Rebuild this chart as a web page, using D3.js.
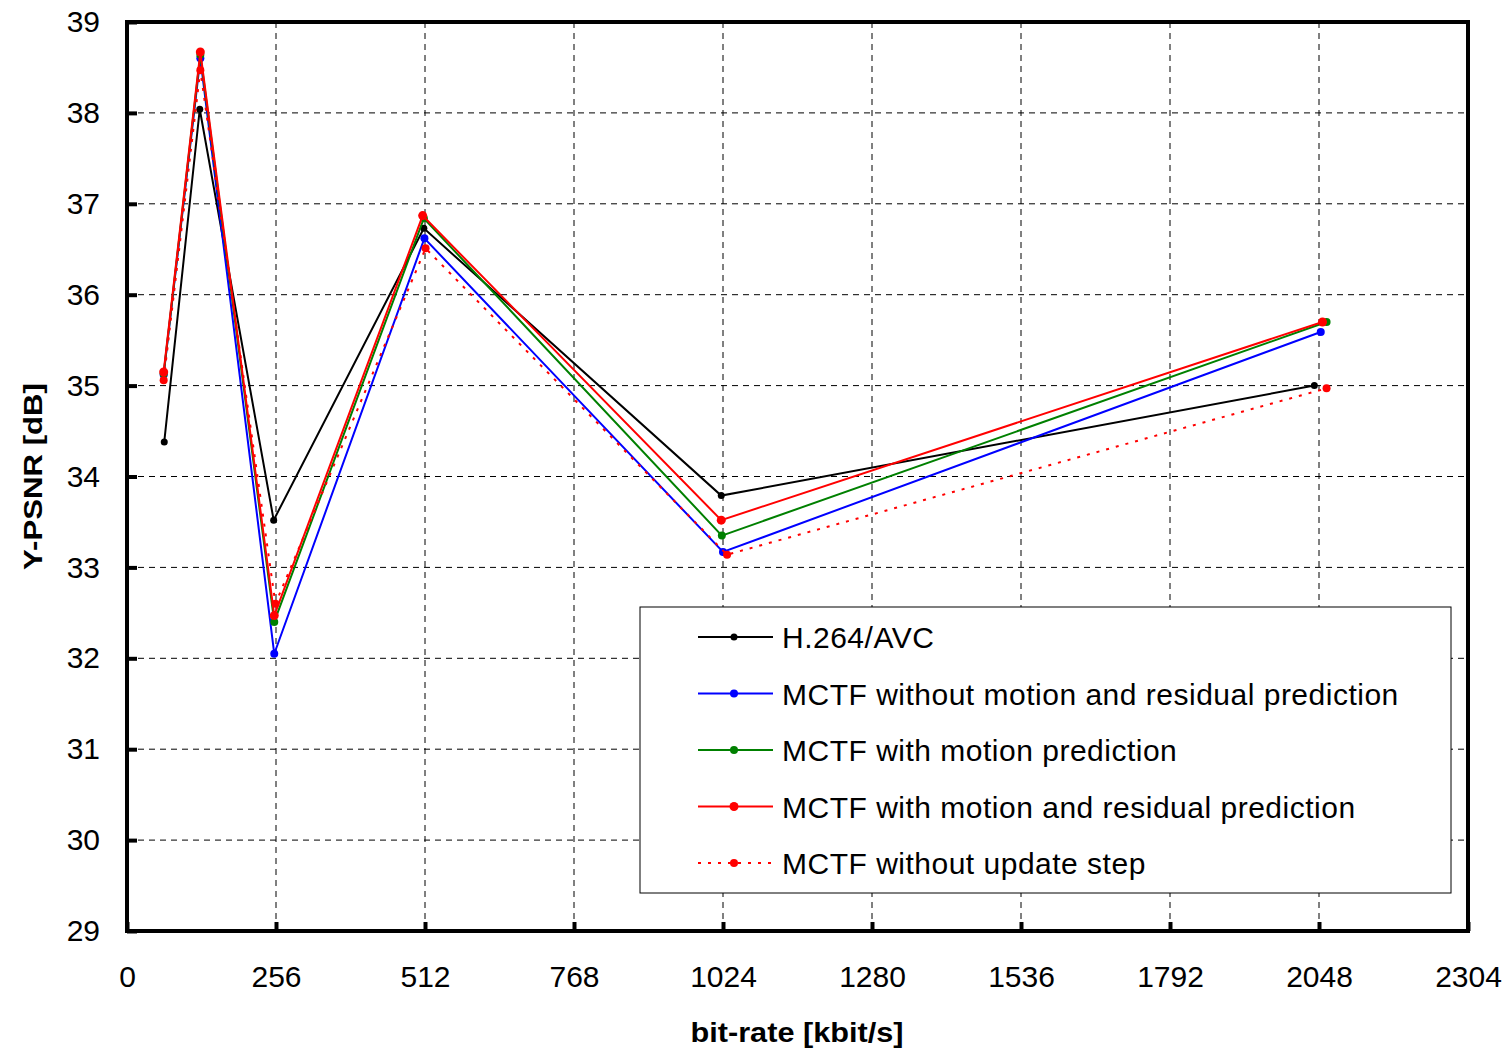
<!DOCTYPE html>
<html>
<head>
<meta charset="utf-8">
<script src="https://cdn.jsdelivr.net/npm/d3@7"></script>
<style>
  body { margin: 0; background: #fff; }
  text { font-family: "Liberation Sans", Arial, sans-serif; }
</style>
</head>
<body>
<div id="chartArea"></div>
<script>
// bit-rate (kbit/s) and Y-PSNR (dB) per curve
const seriesNames = [
  "H.264/AVC",
  "MCTF without motion and residual prediction",
  "MCTF with motion prediction",
  "MCTF with motion and residual prediction",
  "MCTF without update step"
];
const h264Rate = [64, 125, 252, 510, 1021, 2040];
const h264Psnr = [34.38, 38.04, 33.52, 36.73, 33.79, 35.0];
const noPredRate = [63, 126, 253, 511, 1024, 2051];
const noPredPsnr = [35.12, 38.6, 32.05, 36.62, 33.17, 35.59];
const motionRate = [63, 126, 253, 510, 1022, 2061];
const motionPsnr = [35.13, 38.64, 32.4, 36.84, 33.35, 35.7];
const fullRate = [63, 126, 253, 508, 1021, 2054];
const fullPsnr = [35.15, 38.67, 32.47, 36.87, 33.52, 35.7];
const noUpdateRate = [63, 126, 255, 513, 1031, 2061];
const noUpdatePsnr = [35.06, 38.47, 32.6, 36.51, 33.14, 34.97];

const xTicks = [0, 256, 512, 768, 1024, 1280, 1536, 1792, 2048, 2304];
const yTicks = [29, 30, 31, 32, 33, 34, 35, 36, 37, 38, 39];

const colors = ["#000000", "#0000ff", "#008000", "#ff0000", "#ff0000"];

const series = [
  { rate: h264Rate, psnr: h264Psnr, dash: null, r: 3.5 },
  { rate: noPredRate, psnr: noPredPsnr, dash: null, r: 4 },
  { rate: motionRate, psnr: motionPsnr, dash: null, r: 4 },
  { rate: fullRate, psnr: fullPsnr, dash: null, r: 4.5 },
  { rate: noUpdateRate, psnr: noUpdatePsnr, dash: "3,7", r: 4 }
].map((s, i) => ({
  ...s,
  name: seriesNames[i],
  color: colors[i],
  points: s.rate.map((x, j) => ({ x, y: s.psnr[j] }))
}));

const width = 1511;
const height = 1049;
const margin = { top: 22, right: 43, bottom: 118, left: 127 };

const svg = d3.select("#chartArea")
  .append("svg")
  .attr("width", width)
  .attr("height", height);

const xScale = d3.scaleLinear()
  .domain([0, 2304])
  .range([margin.left, width - margin.right]);

const yScale = d3.scaleLinear()
  .domain([29, 39])
  .range([height - margin.bottom, margin.top]);

// grid
svg.append("g")
  .selectAll("line.vgrid")
  .data(xTicks.slice(1, -1))
  .join("line")
  .attr("x1", d => xScale(d)).attr("x2", d => xScale(d))
  .attr("y1", margin.top).attr("y2", height - margin.bottom)
  .attr("stroke", "#000").attr("stroke-width", 1).attr("stroke-dasharray", "6,5");

svg.append("g")
  .selectAll("line.hgrid")
  .data(yTicks.slice(1, -1))
  .join("line")
  .attr("y1", d => yScale(d)).attr("y2", d => yScale(d))
  .attr("x1", margin.left).attr("x2", width - margin.right)
  .attr("stroke", "#000").attr("stroke-width", 1).attr("stroke-dasharray", "6,5");

// axes
const fmt = d3.format("d");
const xAxis = svg.append("g")
  .attr("transform", `translate(0, ${height - margin.bottom})`)
  .call(d3.axisBottom(xScale).tickValues(xTicks).tickFormat(fmt)
    .tickSizeInner(-9).tickSizeOuter(0).tickPadding(35));
const yAxis = svg.append("g")
  .attr("transform", `translate(${margin.left}, 0)`)
  .call(d3.axisLeft(yScale).tickValues(yTicks).tickFormat(fmt)
    .tickSizeInner(-10).tickSizeOuter(0).tickPadding(27));

[xAxis, yAxis].forEach(ax => {
  ax.select(".domain").remove();
  ax.selectAll(".tick line").attr("stroke-width", 4);
  ax.selectAll("text")
    .attr("font-family", "'Liberation Sans', Arial, sans-serif")
    .attr("font-size", 30)
    .attr("fill", "#000");
});

// frame
svg.append("rect")
  .attr("x", margin.left).attr("y", margin.top)
  .attr("width", width - margin.left - margin.right)
  .attr("height", height - margin.top - margin.bottom)
  .attr("fill", "none").attr("stroke", "#000").attr("stroke-width", 4);

// legend box
const legend = svg.append("g");
legend.append("rect")
  .attr("x", 640).attr("y", 607)
  .attr("width", 811).attr("height", 286)
  .attr("fill", "#fff").attr("stroke", "#000").attr("stroke-width", 1);

// curves
const line = d3.line().x(d => xScale(d.x)).y(d => yScale(d.y));

series.forEach(s => {
  svg.append("path")
    .datum(s.points)
    .attr("d", line)
    .attr("fill", "none")
    .attr("stroke", s.color)
    .attr("stroke-width", 2)
    .attr("stroke-dasharray", s.dash);
  svg.append("g")
    .selectAll("circle")
    .data(s.points)
    .join("circle")
    .attr("cx", d => xScale(d.x))
    .attr("cy", d => yScale(d.y))
    .attr("r", s.r)
    .attr("fill", s.color);
});

// legend entries
series.forEach((s, i) => {
  const y = 637 + i * 56.5;
  legend.append("line")
    .attr("x1", 698).attr("x2", 773)
    .attr("y1", y).attr("y2", y)
    .attr("stroke", s.color).attr("stroke-width", 2)
    .attr("stroke-dasharray", s.dash);
  legend.append("circle")
    .attr("cx", 734).attr("cy", y).attr("r", s.r)
    .attr("fill", s.color);
  legend.append("text")
    .attr("x", 782).attr("y", y + 11)
    .attr("font-size", 30)
    .attr("letter-spacing", 0.5)
    .text(s.name);
});

// axis titles
svg.append("text")
  .attr("x", 797).attr("y", 1042)
  .attr("text-anchor", "middle")
  .attr("font-size", 28).attr("font-weight", "bold")
  .attr("textLength", 213).attr("lengthAdjust", "spacingAndGlyphs")
  .text("bit-rate [kbit/s]");

svg.append("text")
  .attr("transform", `translate(42, ${yScale(34)}) rotate(-90)`)
  .attr("text-anchor", "middle")
  .attr("font-size", 26).attr("font-weight", "bold")
  .attr("textLength", 187).attr("lengthAdjust", "spacingAndGlyphs")
  .text("Y-PSNR [dB]");
</script>
</body>
</html>
